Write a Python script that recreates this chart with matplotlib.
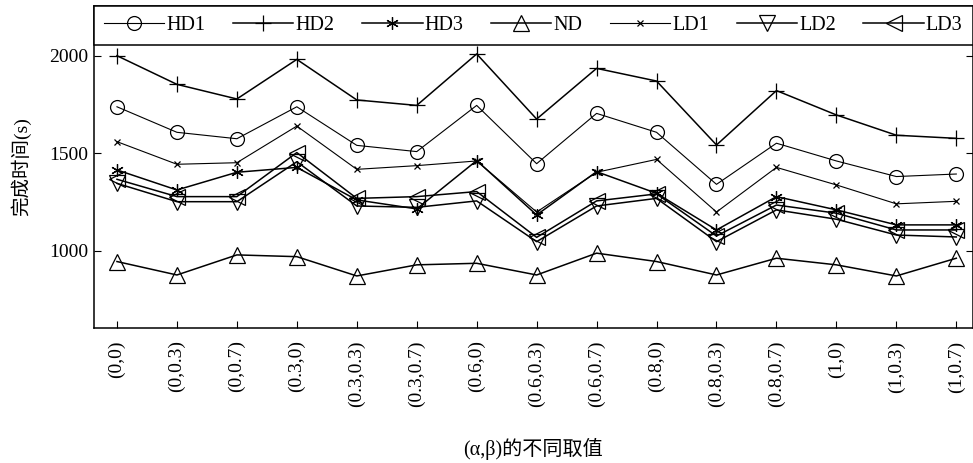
import matplotlib
matplotlib.use("Agg")
import matplotlib.pyplot as plt

plt.rcParams["font.family"] = ["Liberation Serif", "Noto Sans CJK SC"]

# (alpha, beta) settings on the x axis
settings = ["(0,0)", "(0,0.3)", "(0,0.7)", "(0.3,0)", "(0.3,0.3)", "(0.3,0.7)",
            "(0.6,0)", "(0.6,0.3)", "(0.6,0.7)", "(0.8,0)", "(0.8,0.3)", "(0.8,0.7)",
            "(1,0)", "(1,0.3)", "(1,0.7)"]

# completion time (s)
hd1 = [1738, 1607, 1574, 1738, 1540, 1508, 1745, 1446, 1704, 1607, 1340, 1551, 1460, 1380, 1393]
hd2 = [2000, 1853, 1778, 1981, 1773, 1745, 2009, 1675, 1935, 1870, 1542, 1821, 1696, 1592, 1576]
hd3 = [1414, 1311, 1402, 1427, 1260, 1214, 1462, 1183, 1405, 1294, 1106, 1277, 1209, 1132, 1132]
nd = [944, 875, 978, 969, 870, 927, 935, 875, 987, 944, 875, 961, 927, 870, 961]
ld1 = [1559, 1443, 1451, 1639, 1417, 1436, 1460, 1198, 1402, 1468, 1198, 1427, 1337, 1240, 1253]
ld2 = [1345, 1251, 1251, 1456, 1229, 1222, 1255, 1046, 1229, 1268, 1046, 1209, 1161, 1080, 1070]
ld3 = [1366, 1277, 1277, 1503, 1268, 1277, 1303, 1068, 1255, 1291, 1075, 1234, 1192, 1106, 1106]

series = [
    ("HD1", hd1, "o", 10, 0.8),
    ("HD2", hd2, "+", 11, 1.1),
    ("HD3", hd3, (6, 2, 0), 9, 1.1),
    ("ND", nd, "^", 11.5, 1.1),
    ("LD1", ld1, "x", 5, 0.8),
    ("LD2", ld2, "v", 11.5, 1.1),
    ("LD3", ld3, "<", 11.5, 1.1),
]

W, H = 973, 463
fig = plt.figure(figsize=(W / 100, H / 100), dpi=100)
ax = fig.add_axes([94 / W, 1 - 328 / H, (972.5 - 94) / W, (328 - 6) / H])

x = list(range(len(settings)))
for name, vals, mk, ms, lw in series:
    ax.plot(x, vals, color="black", linewidth=lw, marker=mk, markersize=ms,
            markerfacecolor="none", markeredgecolor="black", markeredgewidth=0.9,
            label=name)

ax.set_xlim(-0.383, 14.27)
ax.set_ylim(603, 2255)
ax.set_xticks(x)
ax.set_xticklabels(settings, rotation=90, fontsize=14)
ax.set_yticks([1000, 1500, 2000])
ax.tick_params(axis="y", direction="in", left=True, right=True, labelsize=14,
               length=5, pad=4)
ax.tick_params(axis="x", direction="in", top=False, length=5, pad=9)
for sp in ax.spines.values():
    sp.set_linewidth(1.1)

ax.set_ylabel("完成时间(s)", fontsize=14, labelpad=13)
ax.set_xlabel("(α,β)的不同取值", fontsize=14.5, labelpad=22)

leg = ax.legend(loc="upper left", bbox_to_anchor=(0, 1, 1, 0.0), mode="expand",
                ncol=7, fontsize=14.5, frameon=True, fancybox=False, borderaxespad=0,
                handlelength=3.0, handletextpad=0.1, columnspacing=1.0,
                borderpad=0.5, edgecolor="black", framealpha=1)
leg.get_frame().set_linewidth(1.1)

fig.savefig("out.png", dpi=100)
